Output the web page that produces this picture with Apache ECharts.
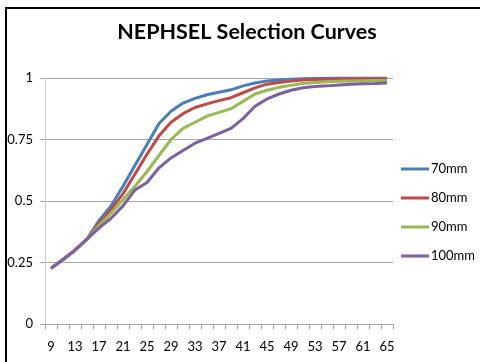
<!DOCTYPE html>
<html>
<head>
<meta charset="utf-8">
<script src="https://cdn.jsdelivr.net/npm/echarts@6/dist/echarts.min.js"></script>
<style>html,body{margin:0;padding:0;background:#fff}#c{width:480px;height:362px}</style>
</head>
<body>
<div id="c"></div>
<script>
const categories = ['9','11','13','15','17','19','21','23','25','27','29','31','33','35','37','39','41','43','45','47','49','51','53','55','57','59','61','63','65'];
const s70 = [0.226,0.262,0.30,0.345,0.42,0.48,0.56,0.645,0.73,0.815,0.865,0.898,0.917,0.932,0.942,0.952,0.968,0.98,0.988,0.992,0.995,0.997,0.998,0.999,1,1,1,1,1];
const s80 = [0.226,0.262,0.30,0.345,0.41,0.465,0.53,0.61,0.69,0.765,0.82,0.855,0.88,0.895,0.908,0.92,0.94,0.96,0.975,0.982,0.988,0.992,0.994,0.995,0.996,0.997,0.997,0.997,0.997];
const s90 = [0.226,0.262,0.30,0.345,0.40,0.45,0.505,0.56,0.62,0.685,0.75,0.795,0.82,0.845,0.86,0.875,0.905,0.935,0.95,0.962,0.97,0.978,0.982,0.985,0.987,0.988,0.989,0.99,0.99];
const s100 = [0.226,0.262,0.30,0.345,0.39,0.43,0.48,0.545,0.575,0.635,0.675,0.705,0.735,0.755,0.775,0.795,0.835,0.885,0.915,0.935,0.95,0.96,0.965,0.968,0.972,0.975,0.977,0.978,0.98];
const seriesNames = ['70mm','80mm','90mm','100mm'];
const seriesColors = ['#4A7EBB','#BE4B48','#98B954','#7D60A0'];
const seriesData = [s70, s80, s90, s100];

const FONT = 'Lato, "Liberation Sans", sans-serif';
const chart = echarts.init(document.getElementById('c'));
chart.setOption({
  animation: false,
  backgroundColor: '#fff',
  graphic: [{
    type: 'rect',
    shape: { x: 6, y: 8, width: 700, height: 700 },
    style: { fill: 'none', stroke: '#000', lineWidth: 2 },
    silent: true
  }],
  title: {
    text: 'NEPHSEL Selection Curves',
    left: 247, top: 21, textAlign: 'center', padding: 0,
    textStyle: { fontFamily: FONT, fontWeight: 'bold', fontSize: 21.5, color: '#000' }
  },
  legend: {
    orient: 'vertical',
    left: 401, top: 161, padding: 0,
    itemWidth: 28, itemHeight: 3, itemGap: 13,
    icon: 'rect',
    data: seriesNames.map((n, i) => ({ name: n, itemStyle: { color: seriesColors[i] } })),
    itemStyle: { borderWidth: 0 },
    textStyle: { fontFamily: FONT, fontSize: 13, color: '#000', padding: [0, 0, 0, -3], lineHeight: 16 }
  },
  grid: { left: 45, right: 87, top: 78, bottom: 38, containLabel: false },
  xAxis: {
    type: 'category',
    data: categories,
    boundaryGap: true,
    axisLine: { lineStyle: { color: '#A6A6A6', width: 1 } },
    axisTick: { show: true, interval: 0, length: 5, lineStyle: { color: '#A6A6A6' } },
    axisLabel: { interval: 1, margin: 16, fontFamily: FONT, fontSize: 13, color: '#000' },
    splitLine: { show: false }
  },
  yAxis: {
    type: 'value',
    min: 0, max: 1, interval: 0.25,
    axisLine: { show: true, lineStyle: { color: '#D0D0D0', width: 1 } },
    axisTick: { show: true, length: 5, lineStyle: { color: '#A6A6A6' } },
    axisLabel: { margin: 12, fontFamily: FONT, fontSize: 13, color: '#000',
      formatter: v => String(v) },
    splitLine: { show: true, lineStyle: { color: '#A6A6A6', width: 1 } }
  },
  series: seriesData.map((d, i) => ({
    name: seriesNames[i],
    type: 'line',
    data: d,
    symbol: 'none',
    smooth: false,
    itemStyle: { color: seriesColors[i] },
    lineStyle: { color: seriesColors[i], width: 3 }
  }))
});
</script>
</body>
</html>
